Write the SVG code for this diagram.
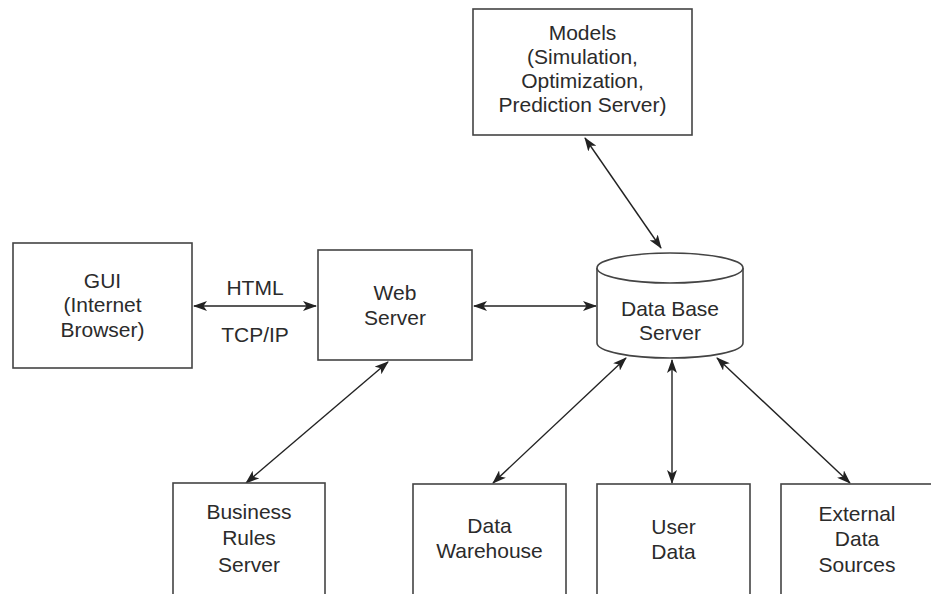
<svg xmlns="http://www.w3.org/2000/svg" width="931" height="594" viewBox="0 0 931 594">
<defs>
<style>
.box{fill:#fff;stroke:#444;stroke-width:1.6}
.t{font-family:"Liberation Sans",Arial,sans-serif;font-size:21px;fill:#2b2b2b;text-anchor:middle}
.c{stroke:#222;stroke-width:1.4;fill:none;marker-start:url(#a);marker-end:url(#a)}
</style>
<marker id="a" viewBox="0 0 14 10" refX="13" refY="5" markerWidth="14" markerHeight="10" markerUnits="userSpaceOnUse" orient="auto-start-reverse">
<path d="M0,0 L14,5 L0,10 L3.5,5 Z" fill="#222"/>
</marker>
</defs>
<rect width="931" height="594" fill="#fff"/>
<g id="connectors">
<line class="c" x1="194" y1="306" x2="316" y2="306"/>
<line class="c" x1="474" y1="306" x2="596" y2="306"/>
<line class="c" x1="585" y1="138" x2="661" y2="248"/>
<line class="c" x1="388" y1="362" x2="246" y2="483"/>
<line class="c" x1="626" y1="358" x2="493" y2="483"/>
<line class="c" x1="672" y1="360" x2="672" y2="483"/>
<line class="c" x1="717" y1="358" x2="850" y2="483"/>
</g>
<g id="models">
<rect class="box" x="473" y="9" width="219" height="126"/>
<text class="t" x="582.5" y="40">Models</text>
<text class="t" x="582.5" y="64">(Simulation,</text>
<text class="t" x="582.5" y="88">Optimization,</text>
<text class="t" x="582.5" y="112">Prediction Server)</text>
</g>
<g id="gui">
<rect class="box" x="13" y="243" width="179" height="125"/>
<text class="t" x="102.5" y="288">GUI</text>
<text class="t" x="102.5" y="312">(Internet</text>
<text class="t" x="102.5" y="337">Browser)</text>
</g>
<g id="labels">
<text class="t" x="255" y="295">HTML</text>
<text class="t" x="255" y="342">TCP/IP</text>
</g>
<g id="webserver">
<rect class="box" x="318" y="250" width="154" height="110"/>
<text class="t" x="395" y="300">Web</text>
<text class="t" x="395" y="325">Server</text>
</g>
<g id="database">
<path class="box" d="M597,268 L597,343 A73,15 0 0 0 743,343 L743,268 A73,15 0 0 0 597,268 Z"/>
<path class="box" fill="none" d="M597,268 A73,15 0 0 0 743,268"/>
<text class="t" x="670" y="316">Data Base</text>
<text class="t" x="670" y="340">Server</text>
</g>
<g id="business">
<rect class="box" x="173" y="483" width="152" height="130"/>
<text class="t" x="249" y="519">Business</text>
<text class="t" x="249" y="545">Rules</text>
<text class="t" x="249" y="572">Server</text>
</g>
<g id="warehouse">
<rect class="box" x="413" y="484" width="153" height="130"/>
<text class="t" x="489.5" y="533">Data</text>
<text class="t" x="489.5" y="558">Warehouse</text>
</g>
<g id="userdata">
<rect class="box" x="597" y="484" width="153" height="130"/>
<text class="t" x="673.5" y="534">User</text>
<text class="t" x="673.5" y="559">Data</text>
</g>
<g id="external">
<rect class="box" x="781" y="484" width="153" height="130"/>
<text class="t" x="857" y="521">External</text>
<text class="t" x="857" y="546">Data</text>
<text class="t" x="857" y="572">Sources</text>
</g>
</svg>
